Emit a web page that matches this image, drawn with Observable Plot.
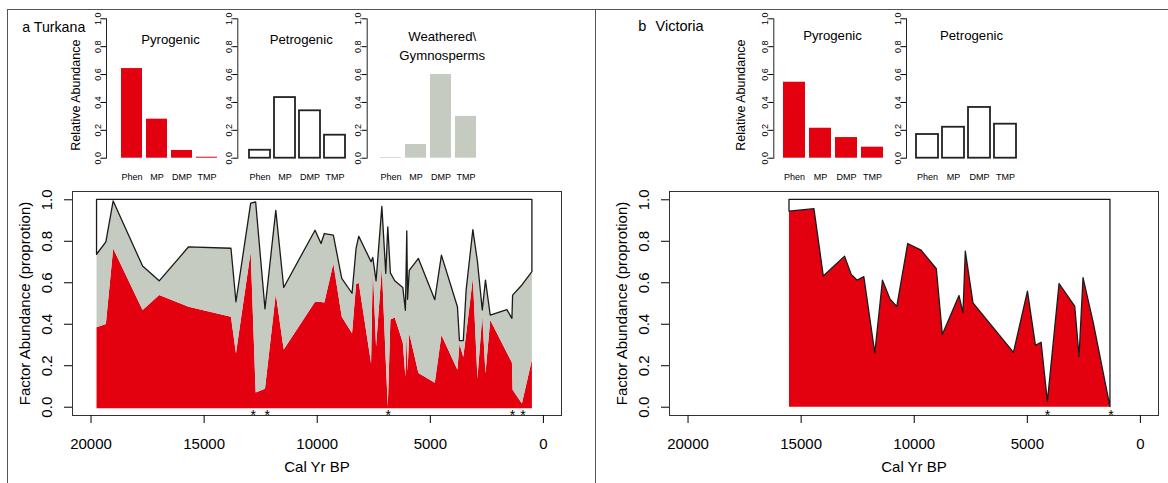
<!DOCTYPE html>
<html>
<head>
<meta charset="utf-8">
<script src="https://cdn.jsdelivr.net/npm/d3@7"></script>
<script src="https://cdn.jsdelivr.net/npm/@observablehq/plot@0.6"></script>
<style>
  body { margin: 0; background: #fff; }
  #fig { position: relative; width: 1168px; height: 483px; overflow: hidden; font-family: "Liberation Sans", Arial, Helvetica, sans-serif; }
  #fig svg { position: absolute; left: 0; top: 0; }
  .rule { position: absolute; background: #555; }
</style>
</head>
<body>
<div id="fig">
  <div class="rule" style="left:7px;top:9px;width:1161px;height:1px"></div>
  <div class="rule" style="left:7px;top:9px;width:1px;height:474px"></div>
  <div class="rule" style="left:595px;top:9px;width:1px;height:474px"></div>
</div>
<script>
// Factor profiles: relative abundance of each compound per factor
const compounds = ["Phen", "MP", "DMP", "TMP"];
const turkanaPyrogenic = [0.643, 0.280, 0.055, 0.007];
const turkanaPetrogenic = [0.057, 0.435, 0.340, 0.165];
const turkanaWeathered = [0.005, 0.098, 0.600, 0.300];
const victoriaPyrogenic = [0.545, 0.215, 0.148, 0.079];
const victoriaPetrogenic = [0.170, 0.222, 0.364, 0.244];

// Lake Turkana core: sample age (cal yr BP) and factor abundances
const turkanaAge = [19735, 19323, 19000, 17699, 16965, 15664, 13792, 13571, 12920, 12700,
  12288, 11810, 11460, 10075, 9810, 9664, 9265, 8894, 8438, 8261,
  8142, 7597, 7522, 7376, 7120, 6947, 6858, 6743, 6550, 6195,
  6080, 6018, 5985, 5910, 5504, 4780, 4487, 3779, 3690, 3520,
  3394, 3097, 2894, 2680, 2540, 2330, 1593, 1370, 1340, 929, 487];
const turkanaPyro = [0.383, 0.399, 0.763, 0.466, 0.538, 0.482, 0.434, 0.258, 0.747, 0.069,
  0.087, 0.545, 0.276, 0.506, 0.505, 0.503, 0.691, 0.434, 0.354, 0.591,
  0.598, 0.210, 0.672, 0.290, 0.672, 0.220, 0.000, 0.420, 0.430, 0.310,
  0.146, 0.360, 0.170, 0.354, 0.162, 0.115, 0.346, 0.178, 0.304, 0.240,
  0.350, 0.621, 0.138, 0.440, 0.160, 0.418, 0.260, 0.213, 0.082, 0.015, 0.226];
const turkanaWeath = [0.352, 0.396, 0.229, 0.212, 0.069, 0.289, 0.330, 0.248, 0.235, 0.918,
  0.385, 0.402, 0.299, 0.345, 0.282, 0.332, 0.136, 0.185, 0.193, 0.172,
  0.224, 0.489, 0.048, 0.317, 0.294, 0.423, 0.867, 0.225, 0.177, 0.265,
  0.319, 0.488, 0.348, 0.303, 0.553, 0.401, 0.385, 0.304, 0.015, 0.079,
  0.213, 0.233, 0.562, 0.026, 0.450, 0.024, 0.208, 0.213, 0.456, 0.572, 0.425];
const turkanaStars = [12830, 12210, 6860, 1370, 905];

// Lake Victoria core
const victoriaAge = [15515, 14412, 13998, 13059, 12763, 12499, 12206, 11721, 11382, 11044,
  10750, 10266, 9675, 9000, 8735, 7998, 7822, 7720, 7380, 5590,
  4972, 4619, 4368, 4090, 3574, 2882, 2691, 2515, 2060, 1324];
const victoriaPyro = [0.943, 0.955, 0.630, 0.726, 0.638, 0.610, 0.627, 0.259, 0.610, 0.518,
  0.483, 0.787, 0.755, 0.665, 0.348, 0.536, 0.453, 0.750, 0.501, 0.262,
  0.557, 0.296, 0.311, 0.026, 0.594, 0.485, 0.243, 0.622, 0.404, 0.000];
const victoriaStars = [4110, 1300];

const ageTicks = [20000, 15000, 10000, 5000, 0];
const fracTicks = [0, 0.2, 0.4, 0.6, 0.8, 1];

const W = 1168, H = 483;
const RED = "#e3000f", GREY = "#c5cbc1";
const FONT = "'Liberation Sans', Arial, Helvetica, sans-serif";
const fig = document.getElementById("fig");
const style = (size) => ({background: "transparent", fontFamily: FONT, fontSize: size + "px", color: "#000", overflow: "visible"});
const fmt1 = d3.format(".1f");

const turkanaRows = turkanaAge.map((age, i) => ({
  age, pyro: turkanaPyro[i], top: turkanaPyro[i] + turkanaWeath[i]
}));
const victoriaRows = victoriaAge.map((age, i) => ({age, pyro: victoriaPyro[i]}));

// Time-series panel: stacked factor abundance through the core
function seriesPanel(x0, x1, layers, stars) {
  return Plot.plot({
    width: W, height: H,
    marginLeft: x0, marginRight: W - x1, marginTop: 191, marginBottom: H - 415,
    style: style(15),
    x: {domain: [20820, -800]},
    y: {domain: [-0.04, 1.04]},
    marks: [
      ...layers,
      Plot.text(stars, {x: d => d, y: -0.02, text: () => "*", fontSize: 14, dy: 4}),
      Plot.frame({stroke: "#333"}),
      Plot.axisX({ticks: ageTicks, tickFormat: d3.format("d"), tickSize: 8, tickPadding: 15, fontSize: 15, label: null}),
      Plot.axisY({ticks: fracTicks, tickFormat: fmt1, tickSize: 8, tickPadding: 13, tickRotate: -90, fontSize: 15, label: null}),
      Plot.text(["Factor Abundance (proprotion)"], {text: d => d, frameAnchor: "left", textAnchor: "middle", lineAnchor: "middle", rotate: -90, dx: -47, fontSize: 15}),
      Plot.text(["Cal Yr BP"], {text: d => d, frameAnchor: "bottom", lineAnchor: "middle", dy: 52, fontSize: 15})
    ]
  });
}

// Factor profile panel: one bar per compound
function profilePanel(axisX, band, values, fill, stroke, strokeWidth) {
  const rows = compounds.map((c, i) => ({compound: c, value: values[i]}));
  return Plot.plot({
    width: W, height: H,
    marginLeft: axisX, marginRight: W - band[1], marginTop: 18.3, marginBottom: H - 157.7,
    style: style(9),
    x: {type: "band", domain: compounds, range: band, paddingInner: 0.15, paddingOuter: 0.15, align: 0.5},
    y: {domain: [0, 1]},
    marks: [
      Plot.barY(rows, {x: "compound", y: "value", fill, stroke, strokeWidth}),
      Plot.frame({anchor: "left", stroke: "#222"}),
      Plot.axisY({ticks: fracTicks, tickFormat: fmt1, tickSize: 5, tickPadding: 1, tickRotate: -90, fontSize: 9, label: null}),
      Plot.axisX({tickSize: 0, tickPadding: 15, fontSize: 9, label: null})
    ]
  });
}

const outline = {fill: "white", stroke: "#1a1a1a", strokeWidth: 1.3, strokeLinejoin: "round"};

fig.appendChild(seriesPanel(72, 561, [
  Plot.areaY(turkanaRows, {x: "age", y1: -0.008, y2: "pyro", fill: RED}),
  Plot.areaY(turkanaRows, {x: "age", y1: "pyro", y2: "top", fill: GREY}),
  Plot.areaY(turkanaRows, {x: "age", y1: "top", y2: 1, ...outline})
], turkanaStars));

fig.appendChild(seriesPanel(669, 1158, [
  Plot.areaY(victoriaRows, {x: "age", y1: 0, y2: "pyro", fill: RED}),
  Plot.areaY(victoriaRows, {x: "age", y1: "pyro", y2: 1, ...outline})
], victoriaStars));

fig.appendChild(profilePanel(106, [115.4, 222.5], turkanaPyrogenic, RED));
fig.appendChild(profilePanel(237.3, [243.4, 350.5], turkanaPetrogenic, "white", "#222", 1.8));
fig.appendChild(profilePanel(366.7, [374.4, 481.5], turkanaWeathered, GREY));
fig.appendChild(profilePanel(773.3, [777, 888.2], victoriaPyrogenic, RED));
fig.appendChild(profilePanel(906, [910, 1021.2], victoriaPetrogenic, "white", "#222", 1.8));

// Panel letters, factor titles and profile axis labels
const note = (text, dx, dy, size, opts = {}) =>
  Plot.text([text], {text: d => d, frameAnchor: "top-left", textAnchor: "middle", lineAnchor: "middle", dx, dy, fontSize: size, ...opts});
fig.appendChild(Plot.plot({
  width: W, height: H, margin: 0, style: style(13),
  marks: [
    note("a Turkana", 21.7, 27, 14.2, {textAnchor: "start"}),
    note("b", 637.7, 26, 14.5, {textAnchor: "start"}),
    note("Victoria", 655, 26, 14.5, {textAnchor: "start"}),
    note("Pyrogenic", 170, 39.3, 13.2),
    note("Petrogenic", 300.7, 39.3, 13.2),
    note("Weathered\\\nGymnosperms", 441.7, 43.5, 13.2, {lineHeight: 1.44}),
    note("Pyrogenic", 832, 35.7, 13.2),
    note("Petrogenic", 971, 35.7, 13.2),
    note("Relative Abundance", 75, 94.7, 12.5, {rotate: -90}),
    note("Relative Abundance", 740, 94.7, 12.5, {rotate: -90})
  ]
}));
</script>
</body>
</html>
